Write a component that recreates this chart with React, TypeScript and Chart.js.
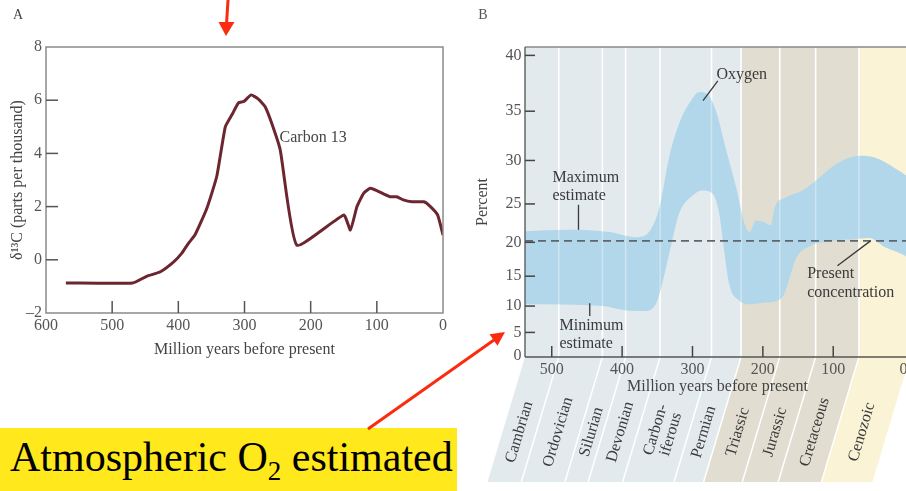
import React, { useEffect, useRef } from 'react';
import { Chart, registerables, LinearScale } from 'chart.js';

Chart.register(...registerables);

// ---------- DATA ----------
// Panel A: carbon-13 record
const C13_AGE = [570, 469, 448, 427, 407, 395, 385, 375, 357, 342, 329, 319, 309, 301, 290, 279, 269, 259, 246, 221, 150, 140, 130, 120, 110, 100, 80, 70, 60, 47, 29, 19, 8, 0];
const C13_VALUE = [-0.87, -0.87, -0.62, -0.45, -0.08, 0.24, 0.61, 0.93, 1.93, 3.13, 5.0, 5.45, 5.9, 5.95, 6.2, 6.04, 5.76, 5.14, 4.13, 0.55, 1.68, 1.12, 2.0, 2.5, 2.69, 2.6, 2.37, 2.37, 2.25, 2.18, 2.18, 2.0, 1.68, 0.93];
const C13_AGE_TICKS = [600, 500, 400, 300, 200, 100, 0];
const C13_VALUE_TICKS = [-2, 0, 2, 4, 6, 8];

// Panel B: atmospheric oxygen estimates
const O2_MAX_AGE = [538, 475, 418, 380, 361, 347, 333, 319, 305, 290, 279, 267, 252, 238, 226, 219, 210, 198, 189, 183, 167, 144, 120, 96, 63, 45, 7, -9];
const O2_MAX = [21.5, 21.7, 21.4, 20.7, 21.5, 24.6, 30.4, 33.8, 35.7, 36.8, 36.6, 35.1, 31.1, 27.0, 22.5, 21.4, 22.9, 22.7, 22.3, 24.6, 25.8, 26.6, 28.1, 29.6, 30.5, 30.4, 28.9, 28.0];
const O2_MIN_AGE = [538, 428, 394, 366, 352, 343, 333, 319, 300, 286, 271, 262, 255, 248, 234, 219, 200, 180, 170, 160, 153, 134, 102, 63, 49, 26, -2, -9];
const O2_MIN = [10.3, 10.0, 9.2, 9.1, 10.4, 13.8, 18.4, 23.8, 26.0, 26.6, 26.2, 23.8, 18.8, 13.8, 11.0, 10.3, 10.6, 10.9, 12.0, 15.5, 17.7, 19.4, 20.2, 20.5, 20.6, 19.3, 18.1, 17.6];
const O2_PRESENT = 20.2;
const O2_AGE_TICKS = [500, 400, 300, 200, 100, 0];
const O2_PCT_TICKS = [0, 5, 10, 15, 20, 25, 30, 35, 40];

const PERIOD_NAMES = ['Cambrian', 'Ordovician', 'Silurian', 'Devonian', 'Carbon-\niferous', 'Permian', 'Triassic', 'Jurassic', 'Cretaceous', 'Cenozoic'];
const PERIOD_START = [538, 490, 428, 395, 346, 273, 231, 176, 125, 63.5];
const ERA_START = [538, 231, 63.5];

const NOTE_TEXT = ['Oxygen', 'Maximum\nestimate', 'Minimum\nestimate', 'Present\nconcentration'];
const NOTE_AGE = [266, 499, 489, 137];
const NOTE_PCT = [38.3, 28.1, 6.3, 15.3];
const LEADER_AGE = [[264, 285], [462, 462], [446, 446], [94, 47]];
const LEADER_PCT = [[37.8, 36.0], [24.9, 21.7], [10.5, 8.2], [16.6, 20.2]];

// ---------- STYLE ----------
const SERIF = '"Liberation Serif", "Times New Roman", serif';
const EXP_K = 0.025;
const ERA_COLORS = ['#e2eaee', '#e1ddd0', '#faf3d6'];
const O2_BLUE = '#b2d7ea';
const TEXT = '#444';

class ExpScale extends LinearScale {
  static id = 'exponential';
  static defaults = { ...(LinearScale as any).defaults };
  getPixelForValue(value: number) {
    const a = Math.exp(EXP_K * this.min);
    const b = Math.exp(EXP_K * this.max);
    return this.getPixelForDecimal((Math.exp(EXP_K * value) - a) / (b - a));
  }
  getValueForPixel(pixel: number) {
    const a = Math.exp(EXP_K * this.min);
    const b = Math.exp(EXP_K * this.max);
    return Math.log(a + this.getDecimalForPixel(pixel) * (b - a)) / EXP_K;
  }
}
Chart.register(ExpScale as any);

const fmtNum = (v: number) => (v < 0 ? '\u2013' + Math.abs(v) : String(v));

function LeftChart() {
  const ref = useRef<HTMLCanvasElement>(null);
  useEffect(() => {
    const framePlugin = {
      id: 'frameA',
      afterDraw(chart: any) {
        const { ctx, chartArea: a, scales } = chart;
        ctx.save();
        ctx.strokeStyle = '#8a8a8a';
        ctx.lineWidth = 1.5;
        ctx.strokeRect(a.left, a.top, a.right - a.left, a.bottom - a.top);
        ctx.strokeStyle = '#555';
        ctx.lineWidth = 1.5;
        C13_AGE_TICKS.forEach((v) => {
          const px = scales.x.getPixelForValue(v);
          if (Math.abs(px - a.left) < 2 || Math.abs(px - a.right) < 2) return;
          ctx.beginPath(); ctx.moveTo(px, a.bottom); ctx.lineTo(px, a.bottom - 12); ctx.stroke();
        });
        C13_VALUE_TICKS.forEach((v) => {
          const py = scales.y.getPixelForValue(v);
          if (Math.abs(py - a.top) < 2 || Math.abs(py - a.bottom) < 2) return;
          ctx.beginPath(); ctx.moveTo(a.left, py); ctx.lineTo(a.left + 12, py); ctx.stroke();
        });
        ctx.fillStyle = TEXT;
        ctx.font = `16px ${SERIF}`;
        ctx.textAlign = 'left';
        ctx.textBaseline = 'middle';
        ctx.fillText('Carbon 13', scales.x.getPixelForValue(247), scales.y.getPixelForValue(4.57));
        ctx.font = `14px ${SERIF}`;
        ctx.textAlign = 'center';
        ctx.fillText('A', 18, 15);
        ctx.restore();
      },
    };
    const chart = new Chart(ref.current as HTMLCanvasElement, {
      type: 'line',
      data: {
        datasets: [
          {
            data: C13_AGE.map((x, i) => ({ x, y: C13_VALUE[i] })),
            borderColor: '#6c2630',
            borderWidth: 3,
            pointRadius: 0,
            tension: 0.15,
            fill: false,
          },
        ],
      },
      options: {
        animation: false,
        responsive: false,
        maintainAspectRatio: false,
        layout: { padding: { top: 47, right: 27, left: 0, bottom: 0 } },
        plugins: { legend: { display: false }, tooltip: { enabled: false } },
        scales: {
          x: {
            type: 'linear',
            min: 0,
            max: 600,
            reverse: true,
            afterFit: (s: any) => { s.height = 57; },
            afterBuildTicks: (s: any) => { s.ticks = C13_AGE_TICKS.map((value) => ({ value })); },
            grid: { display: false, drawTicks: false },
            border: { display: false },
            ticks: { padding: 3, color: '#555', font: { family: SERIF, size: 16 }, maxRotation: 0, autoSkip: false, callback: (v: any) => fmtNum(Number(v)) },
            title: { display: true, text: 'Million years before present', color: TEXT, font: { family: SERIF, size: 16 }, padding: { top: 0, bottom: 11 } },
          },
          y: {
            type: 'linear',
            min: -2,
            max: 8,
            afterFit: (s: any) => { s.width = 46; },
            afterBuildTicks: (s: any) => { s.ticks = C13_VALUE_TICKS.map((value) => ({ value })); },
            grid: { display: false, drawTicks: false },
            border: { display: false },
            ticks: { padding: 4, color: '#555', font: { family: SERIF, size: 16 }, callback: (v: any) => fmtNum(Number(v)) },
            title: { display: true, text: 'δ¹³C (parts per thousand)', color: TEXT, font: { family: SERIF, size: 16 }, padding: { top: 8, bottom: 0 } },
          },
        },
      },
      plugins: [framePlugin],
    } as any);
    return () => chart.destroy();
  }, []);
  return <canvas ref={ref} width={470} height={370} style={{ position: 'absolute', left: 0, top: 0, width: 470, height: 370 }} />;
}

function RightChart() {
  const ref = useRef<HTMLCanvasElement>(null);
  useEffect(() => {
    const SHEAR = 0.3;
    const DEPTH = 125;
    const LABEL_DROP = 75;
    const bandsPlugin = {
      id: 'bandsB',
      beforeDraw(chart: any) {
        const { ctx, chartArea: a, scales } = chart;
        const x = scales.x;
        const top = a.bottom;
        const bot = a.bottom + DEPTH;
        const dx = SHEAR * DEPTH;
        ctx.save();
        ERA_START.forEach((s, i) => {
          const xa = x.getPixelForValue(s);
          const xb = i + 1 < ERA_START.length ? x.getPixelForValue(ERA_START[i + 1]) : a.right;
          ctx.fillStyle = ERA_COLORS[i];
          ctx.fillRect(xa, a.top, xb - xa, a.bottom - a.top);
          ctx.beginPath();
          ctx.moveTo(xa, top); ctx.lineTo(xb, top); ctx.lineTo(xb - dx, bot); ctx.lineTo(xa - dx, bot);
          ctx.closePath(); ctx.fill();
        });
        ctx.strokeStyle = '#ffffff';
        ctx.lineWidth = 1.5;
        PERIOD_START.slice(1).forEach((s) => {
          const px = x.getPixelForValue(s);
          ctx.beginPath(); ctx.moveTo(px, a.top); ctx.lineTo(px, a.bottom); ctx.lineTo(px - dx, bot); ctx.stroke();
        });
        ctx.fillStyle = '#3a3a3a';
        ctx.font = `16px ${SERIF}`;
        ctx.textAlign = 'center';
        ctx.textBaseline = 'middle';
        PERIOD_NAMES.forEach((name, i) => {
          const xa = x.getPixelForValue(PERIOD_START[i]);
          const xb = i + 1 < PERIOD_START.length ? x.getPixelForValue(PERIOD_START[i + 1]) : a.right;
          const cx = (xa + xb) / 2 - SHEAR * LABEL_DROP;
          const cy = a.bottom + LABEL_DROP;
          ctx.save();
          ctx.translate(cx, cy);
          ctx.rotate(Math.atan2(-1, SHEAR));
          const lines = name.split('\n');
          lines.forEach((ln, j) => ctx.fillText(ln, 0, (j - (lines.length - 1) / 2) * 16));
          ctx.restore();
        });
        ctx.restore();
      },
      afterDatasetDraw(chart: any, args: any) {
        if (args.index !== 1) return;
        const { ctx, chartArea: a, scales } = chart;
        ctx.save();
        ctx.strokeStyle = 'rgba(255,255,255,0.35)';
        ctx.lineWidth = 1.5;
        PERIOD_START.slice(1).forEach((s) => {
          const px = scales.x.getPixelForValue(s);
          ctx.beginPath(); ctx.moveTo(px, a.top); ctx.lineTo(px, a.bottom); ctx.stroke();
        });
        ctx.restore();
      },
      afterDraw(chart: any) {
        const { ctx, chartArea: a, scales } = chart;
        const x = scales.x;
        const y = scales.y;
        ctx.save();
        ctx.lineWidth = 1.5;
        ctx.strokeStyle = '#888';
        ctx.beginPath(); ctx.moveTo(a.left, a.top); ctx.lineTo(a.right, a.top); ctx.stroke();
        ctx.strokeStyle = '#666';
        ctx.beginPath(); ctx.moveTo(a.left, a.top); ctx.lineTo(a.left, a.bottom); ctx.stroke();
        ctx.strokeStyle = '#555';
        ctx.beginPath(); ctx.moveTo(a.left, a.bottom); ctx.lineTo(a.right, a.bottom); ctx.stroke();
        ctx.strokeStyle = '#444';
        O2_PCT_TICKS.forEach((v) => {
          if (v === 0) return;
          const py = y.getPixelForValue(v);
          ctx.beginPath(); ctx.moveTo(a.left, py); ctx.lineTo(a.left + 10, py); ctx.stroke();
        });
        O2_AGE_TICKS.forEach((v) => {
          if (v === 0) return;
          const px = x.getPixelForValue(v);
          ctx.beginPath(); ctx.moveTo(px, a.bottom); ctx.lineTo(px, a.bottom - 11); ctx.stroke();
        });
        ctx.strokeStyle = '#3a3a3a';
        ctx.lineWidth = 1.3;
        LEADER_AGE.forEach((ages, i) => {
          ctx.beginPath();
          ctx.moveTo(x.getPixelForValue(ages[0]), y.getPixelForValue(LEADER_PCT[i][0]));
          ctx.lineTo(x.getPixelForValue(ages[1]), y.getPixelForValue(LEADER_PCT[i][1]));
          ctx.stroke();
        });
        ctx.fillStyle = '#3a3a3a';
        ctx.font = `16px ${SERIF}`;
        ctx.textAlign = 'left';
        ctx.textBaseline = 'middle';
        NOTE_TEXT.forEach((t, i) => {
          const px = x.getPixelForValue(NOTE_AGE[i]);
          const py = y.getPixelForValue(NOTE_PCT[i]);
          t.split('\n').forEach((ln, j) => ctx.fillText(ln, px, py + j * 18.3));
        });
        ctx.font = `14px ${SERIF}`;
        ctx.fillStyle = '#555';
        ctx.textAlign = 'center';
        ctx.fillText('B', 13, 15);
        ctx.restore();
      },
    };
    const chart = new Chart(ref.current as HTMLCanvasElement, {
      type: 'line',
      data: {
        datasets: [
          {
            data: [{ x: 538, y: O2_PRESENT }, { x: -9, y: O2_PRESENT }],
            borderColor: '#5d676d',
            borderWidth: 1.6,
            borderDash: [8, 5],
            pointRadius: 0,
            fill: false,
          },
          {
            data: O2_MAX_AGE.map((x, i) => ({ x, y: O2_MAX[i] })),
            borderColor: 'rgba(0,0,0,0)',
            backgroundColor: O2_BLUE,
            pointRadius: 0,
            cubicInterpolationMode: 'monotone',
            fill: '+1',
          },
          {
            data: O2_MIN_AGE.map((x, i) => ({ x, y: O2_MIN[i] })),
            borderColor: 'rgba(0,0,0,0)',
            pointRadius: 0,
            cubicInterpolationMode: 'monotone',
            fill: false,
          },
        ],
      },
      options: {
        animation: false,
        responsive: false,
        maintainAspectRatio: false,
        layout: { padding: { top: 47, right: 0, left: 0, bottom: 0 } },
        plugins: { legend: { display: false }, tooltip: { enabled: false } },
        scales: {
          x: {
            type: 'linear',
            min: -9,
            max: 538,
            reverse: true,
            afterFit: (s: any) => { s.height = 134; },
            afterBuildTicks: (s: any) => { s.ticks = O2_AGE_TICKS.map((value) => ({ value })); },
            grid: { display: false, drawTicks: false },
            border: { display: false },
            ticks: { padding: 3.4, color: '#555', font: { family: SERIF, size: 16 }, maxRotation: 0, autoSkip: false },
            title: { display: true, text: 'Million years before present', color: TEXT, font: { family: SERIF, size: 16 }, padding: { top: 0, bottom: 94.7 } },
          },
          y: {
            type: 'exponential',
            min: -0.3,
            max: 40.7,
            afterFit: (s: any) => { s.width = 55; },
            afterBuildTicks: (s: any) => { s.ticks = O2_PCT_TICKS.map((value) => ({ value })); },
            grid: { display: false, drawTicks: false },
            border: { display: false },
            ticks: { padding: 3.5, color: '#555', font: { family: SERIF, size: 16 }, autoSkip: false },
            title: { display: true, text: 'Percent', color: TEXT, font: { family: SERIF, size: 16 }, padding: { top: 3.4, bottom: 0 } },
          },
        },
      },
      plugins: [bandsPlugin],
    } as any);
    return () => chart.destroy();
  }, []);
  return <canvas ref={ref} width={441} height={491} style={{ position: 'absolute', left: 470, top: 0, width: 441, height: 491 }} />;
}

export default function App() {
  const RED = '#fb2b10';
  return (
    <div style={{ position: 'fixed', left: 0, top: 0, width: 906, height: 491, overflow: 'hidden', background: '#ffffff' }}>
      <LeftChart />
      <RightChart />
      <div style={{ position: 'absolute', left: 0, top: 428, width: 457, height: 63, background: '#ffe81c' }}>
        <div style={{ position: 'absolute', left: 10, top: 6, fontFamily: SERIF, fontSize: 42, lineHeight: '46px', color: '#000', whiteSpace: 'nowrap' }}>
          Atmospheric O<span style={{ fontSize: 27, position: 'relative', top: 9 }}>2</span> estimated
        </div>
      </div>
      <svg width={906} height={491} style={{ position: 'absolute', left: 0, top: 0, pointerEvents: 'none' }}>
        <line x1={228} y1={0} x2={226.5} y2={24} stroke={RED} strokeWidth={3} />
        <polygon points="218.5,22 234.5,22 226,36" fill={RED} />
        <line x1={368} y1={429} x2={494} y2={340} stroke={RED} strokeWidth={3} />
        <polygon points="505,332 489.5,334.3 497.5,345.7" fill={RED} />
      </svg>
    </div>
  );
}
